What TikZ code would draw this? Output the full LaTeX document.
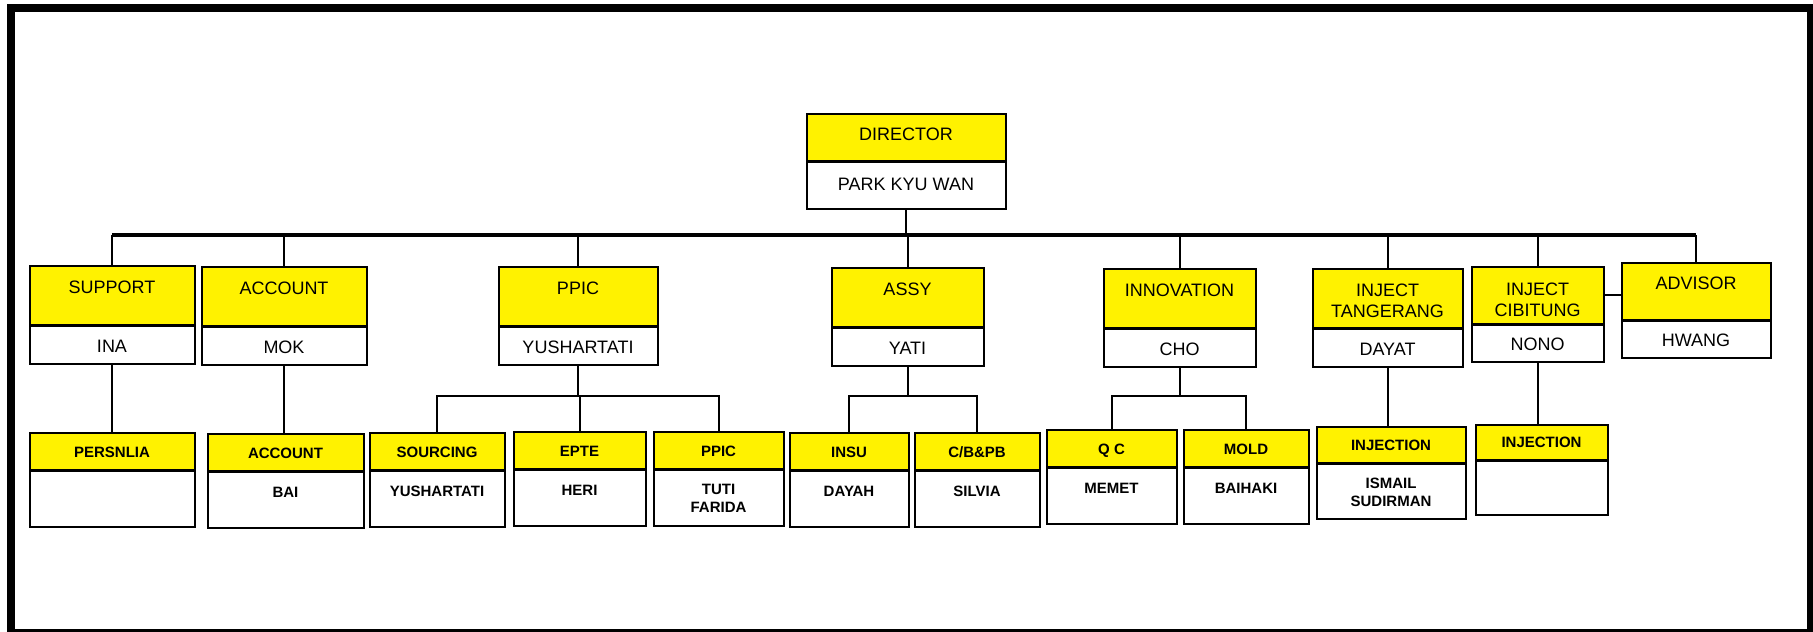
\documentclass[tikz,border=0pt]{standalone}
\usepackage{fontspec}
\setmainfont{Liberation Sans}
\usetikzlibrary{positioning}

\tikzset{
  box/.style={draw, line width=2pt, outer sep=0.25\pgflinewidth, inner sep=0pt, align=center},
  toptitle/.style={box, fill=yellow, font=\fontsize{18}{21}\selectfont,
                   text height=28pt, text depth=31pt},
  topname/.style={box, fill=white, font=\fontsize{18}{21}\selectfont,
                  text height=27pt, text depth=11pt},
  subtitle/.style={box, fill=yellow, font=\bfseries\fontsize{15}{18}\selectfont,
                   text height=25pt, text depth=12pt},
  subname/.style={box, fill=white, font=\bfseries\fontsize{15}{17.5}\selectfont,
                  text height=26pt, text depth=30pt},
  link/.style={line width=2pt},
}

\begin{document}
\begin{tikzpicture}[x=1pt,y=-1pt]
\useasboundingbox (0,0) rectangle (1813,632);

% frame
\fill (7,4) rectangle (1813,12);
\fill (7,4) rectangle (15,632);
\fill (1807,4) rectangle (1813,632);
\fill (7,629) rectangle (1813,632);

% director
\node[toptitle, minimum width=199pt, text height=26.5pt, text depth=20.5pt,
      anchor=north west] (dir) at (806,113) {DIRECTOR};
\node[topname, minimum width=199pt, text height=28.5pt, text depth=18.5pt,
      below=0pt of dir] (dirn) {PARK KYU WAN};

% departments
\node[toptitle, minimum width=165pt, anchor=north west] (sup) at (29,265) {SUPPORT};
\node[topname, minimum width=165pt, below=0pt of sup] (supn) {INA};
\node[toptitle, minimum width=165pt, anchor=north west] (acc) at (201,266) {ACCOUNT};
\node[topname, minimum width=165pt, below=0pt of acc] (accn) {MOK};
\node[toptitle, minimum width=159pt, anchor=north west] (ppic) at (498,266) {PPIC};
\node[topname, minimum width=159pt, below=0pt of ppic] (ppicn) {YUSHARTATI};
\node[toptitle, minimum width=152pt, anchor=north west] (assy) at (831,267) {ASSY};
\node[topname, minimum width=152pt, below=0pt of assy] (assyn) {YATI};
\node[toptitle, minimum width=152pt, anchor=north west] (inno) at (1103,268) {INNOVATION};
\node[topname, minimum width=152pt, below=0pt of inno] (inon) {CHO};
\node[toptitle, minimum width=150pt, text height=48.5pt, text depth=10.5pt,
      anchor=north west] (tang) at (1312,268) {INJECT\\TANGERANG};
\node[topname, minimum width=150pt, below=0pt of tang] (tangn) {DAYAT};
\node[toptitle, minimum width=132pt, text height=49.5pt, text depth=7.5pt,
      anchor=north west] (cibt) at (1471,266) {INJECT\\CIBITUNG};
\node[topname, minimum width=132pt, text height=26pt, text depth=11pt,
      below=0pt of cibt] (cibtn) {NONO};
\node[toptitle, minimum width=149pt, text height=27pt, text depth=30pt,
      anchor=north west] (advt) at (1621,262) {ADVISOR};
\node[topname, minimum width=149pt, text height=26pt, text depth=11pt,
      below=0pt of advt] (advtn) {HWANG};

% sections
\node[subtitle, minimum width=165pt, anchor=north west] (pers) at (29,432) {PERSNLIA};
\node[subname, minimum width=165pt, below=0pt of pers] (persn) {};
\node[subtitle, minimum width=156pt, anchor=north west] (acc2) at (207,433) {ACCOUNT};
\node[subname, minimum width=156pt, below=0pt of acc2] (acc2n) {BAI};
\node[subtitle, minimum width=135pt, anchor=north west] (sour) at (369,432) {SOURCING};
\node[subname, minimum width=135pt, below=0pt of sour] (sourn) {YUSHARTATI};
\node[subtitle, minimum width=132pt, anchor=north west] (epte) at (513,431) {EPTE};
\node[subname, minimum width=132pt, below=0pt of epte] (epten) {HERI};
\node[subtitle, minimum width=130pt, anchor=north west] (ppic2) at (653,431) {PPIC};
\node[subname, minimum width=130pt, text height=42.5pt, text depth=13.5pt,
      below=0pt of ppic2] (ppic2n) {TUTI\\FARIDA};
\node[subtitle, minimum width=119pt, anchor=north west] (insu) at (789,432) {INSU};
\node[subname, minimum width=119pt, below=0pt of insu] (insun) {DAYAH};
\node[subtitle, minimum width=125pt, anchor=north west] (cb) at (914,432) {C/B\&PB};
\node[subname, minimum width=125pt, below=0pt of cb] (cbn) {SILVIA};
\node[subtitle, minimum width=130pt, anchor=north west] (qc) at (1046,429) {Q C};
\node[subname, minimum width=130pt, below=0pt of qc] (qcn) {MEMET};
\node[subtitle, minimum width=125pt, anchor=north west] (mold) at (1183,429) {MOLD};
\node[subname, minimum width=125pt, below=0pt of mold] (moldn) {BAIHAKI};
\node[subtitle, minimum width=149pt, text height=24pt, text depth=12pt,
      anchor=north west] (inj1) at (1316,426) {INJECTION};
\node[subname, minimum width=149pt, text height=42.5pt, text depth=12.5pt,
      below=0pt of inj1] (inj1n) {ISMAIL\\SUDIRMAN};
\node[subtitle, minimum width=132pt, text height=23pt, text depth=12pt,
      anchor=north west] (inj2) at (1475,424) {INJECTION};
\node[subname, minimum width=132pt, text height=26pt, text depth=28pt,
      below=0pt of inj2] (inj2n) {};

% main bus
\coordinate (bus) at (0,235);
\draw[line width=3.5pt] (sup.north |- bus) -- (advt.north |- bus);
\draw[link] (dirn.south) -- (dirn.south |- bus);
\foreach \n in {sup,acc,ppic,assy,inno,tang,cibt,advt}
  \draw[link] (\n.north) -- (\n.north |- bus);
\draw[link] (cibt.east) -- (cibt.east -| advt.west);

% section buses
\coordinate (sb) at (0,396);
\foreach \p/\a/\b in {ppicn/sour/ppic2, assyn/insu/cb, inon/qc/mold} {
  \draw[link] (\p.south) -- (\p.south |- sb);
  \draw[link] (\a.north) -- (\a.north |- sb) -- (\b.north |- sb) -- (\b.north);
}
\draw[link] (epte.north) -- (epte.north |- sb);
\foreach \p/\c in {supn/pers, accn/acc2, tangn/inj1, cibtn/inj2}
  \draw[link] (\p.south) -- (\p.south |- \c.north);

\end{tikzpicture}
\end{document}
